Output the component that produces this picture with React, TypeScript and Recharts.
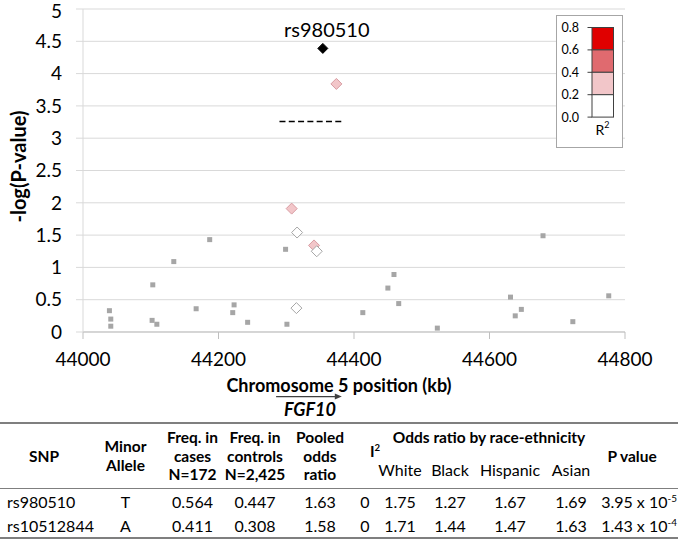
import React from 'react';
import { ScatterChart, Scatter, XAxis, YAxis, CartesianGrid, ReferenceLine, LabelList } from 'recharts';

const xTicks = [44000, 44200, 44400, 44600, 44800];
const yTicks = [0, 0.5, 1, 1.5, 2, 2.5, 3, 3.5, 4, 4.5, 5];

// SNPs without LD information (small gray squares)
const otherPos = [44039, 44041, 44041, 44103, 44102, 44109, 44134, 44167, 44187, 44223, 44221, 44243, 44299, 44301, 44413, 44450, 44459, 44466, 44523, 44631, 44638, 44647, 44679, 44723, 44776];
const otherLogP = [0.33, 0.2, 0.09, 0.73, 0.18, 0.12, 1.09, 0.36, 1.43, 0.42, 0.3, 0.15, 1.28, 0.12, 0.3, 0.68, 0.89, 0.44, 0.06, 0.54, 0.25, 0.35, 1.49, 0.16, 0.56];

// r2 0.0-0.2 (white diamonds)
const lowLdPos = [44316, 44345, 44315];
const lowLdLogP = [1.54, 1.25, 0.37];

// r2 0.2-0.4 (light pink diamonds)
const midLdPos = [44308, 44341, 44374];
const midLdLogP = [1.91, 1.34, 3.84];

// lead SNP
const leadSnp = ['rs980510'];
const leadPos = [44354];
const leadLogP = [4.39];

const threshold = 3.26;
const thresholdFrom = 44290;
const thresholdTo = 44384;

const geneName = 'FGF10';
const geneStart = 44285;
const geneEnd = 44382;
const geneTrackY = -1;

const r2Ticks = ['0.8', '0.6', '0.4', '0.2', '0.0'];
const r2Colors = ['#e00000', '#e06a6f', '#f2c6c9', '#ffffff'];

// table
const snps = ['rs980510', 'rs10512844'];
const minorAllele = ['T', 'A'];
const freqCases = ['0.564', '0.411'];
const freqControls = ['0.447', '0.308'];
const pooledOR = ['1.63', '1.58'];
const iSquared = ['0', '0'];
const races = ['White', 'Black', 'Hispanic', 'Asian'];
const orByRace = [
  ['1.75', '1.27', '1.67', '1.69'],
  ['1.71', '1.44', '1.47', '1.63'],
];
const pMantissa = ['3.95', '1.43'];
const pExponent = ['-5', '-4'];

const colWidths = [88, 75, 59, 66, 64, 26, 44, 56, 64, 58, 78];

const toPoints = (xs: number[], ys: number[]) => xs.map((x, i) => ({ x, y: ys[i] }));

const otherData = toPoints(otherPos, otherLogP);
const lowData = toPoints(lowLdPos, lowLdLogP);
const midData = toPoints(midLdPos, midLdLogP);
const leadData = leadPos.map((x, i) => ({ x, y: leadLogP[i], snp: leadSnp[i] }));

const diamond = (fill: string, stroke: string, r: number) => (props: any) => {
  const { cx, cy } = props;
  return (
    <path
      d={`M${cx},${cy - r}L${cx + r},${cy}L${cx},${cy + r}L${cx - r},${cy}Z`}
      fill={fill}
      stroke={stroke}
      strokeWidth={1}
    />
  );
};

const square = (props: any) => {
  const { cx, cy } = props;
  return <rect x={cx - 2.5} y={cy - 2.5} width={5} height={5} fill="#a6a6a6" />;
};

const sup = (t: string) => (
  <span style={{ fontSize: '0.62em', verticalAlign: 'super', lineHeight: 0 }}>{t}</span>
);

const th: React.CSSProperties = {
  fontWeight: 700,
  fontSize: 15.5,
  padding: 0,
  textAlign: 'center',
  verticalAlign: 'middle',
  lineHeight: '18.5px',
};
const td: React.CSSProperties = {
  padding: 0,
  textAlign: 'center',
  verticalAlign: 'middle',
};

export default function App() {
  return (
    <div
      style={{
        position: 'absolute',
        left: 0,
        top: 0,
        width: 680,
        height: 542,
        background: '#fff',
        fontFamily: 'Lato',
        color: '#000',
        overflow: 'hidden',
      }}
    >
      <ScatterChart width={680} height={420} margin={{ top: 9, right: 55, bottom: 48, left: 0 }}>
        <CartesianGrid vertical={false} stroke="#d9d9d9" />
        <XAxis
          type="number"
          dataKey="x"
          domain={[44000, 44800]}
          ticks={xTicks}
          height={40}
          tickSize={7}
          tickMargin={14}
          tick={{ fontSize: 19, fill: '#000' }}
          axisLine={{ stroke: '#bfbfbf' }}
          tickLine={{ stroke: '#bfbfbf' }}
          label={(p: any) => {
            const vb = p.viewBox;
            return (
              <text
                x={vb.x + vb.width / 2 - 15}
                y={385}
                textAnchor="middle"
                dominantBaseline="central"
                fontSize={18}
                fontWeight={700}
                fill="#000"
              >
                Chromosome 5 position (kb)
              </text>
            );
          }}
        />
        <YAxis
          type="number"
          dataKey="y"
          domain={[0, 5]}
          ticks={yTicks}
          width={83}
          tickSize={7}
          tickMargin={14}
          tick={{ fontSize: 19, fill: '#000' }}
          axisLine={{ stroke: '#d9d9d9' }}
          tickLine={{ stroke: '#d9d9d9' }}
          label={(p: any) => {
            const vb = p.viewBox;
            const cx = vb.x + 18;
            const cy = vb.y + vb.height / 2 - 4;
            return (
              <text
                x={cx}
                y={cy}
                transform={`rotate(-90 ${cx} ${cy})`}
                textAnchor="middle"
                dominantBaseline="central"
                fontSize={20}
                fontWeight={700}
                fill="#000"
              >
                -log(P-value)
              </text>
            );
          }}
        />
        <ReferenceLine
          segment={[
            { x: thresholdFrom, y: threshold },
            { x: thresholdTo, y: threshold },
          ]}
          stroke="#000"
          strokeWidth={1.5}
          strokeDasharray="6 3.3"
        />
        <ReferenceLine
          ifOverflow="visible"
          segment={[
            { x: geneStart, y: geneTrackY },
            { x: geneEnd, y: geneTrackY },
          ]}
          shape={(p: any) => {
            const { x1, y1, x2 } = p;
            return (
              <g>
                <line x1={x1} y1={y1} x2={x2 - 4} y2={y1} stroke="#404040" strokeWidth={1.3} />
                <path d={`M${x2},${y1}L${x2 - 7},${y1 - 3}L${x2 - 7},${y1 + 3}Z`} fill="#404040" />
                <text
                  x={(x1 + x2) / 2 + 1}
                  y={y1 + 12}
                  textAnchor="middle"
                  dominantBaseline="central"
                  fontSize={18}
                  fontWeight={700}
                  fontStyle="italic"
                  fill="#000"
                >
                  {geneName}
                </text>
              </g>
            );
          }}
        />
        <Scatter data={otherData} shape={square} isAnimationActive={false} />
        <Scatter data={midData} shape={diamond('#f2c6c9', '#d89ca2', 5.5)} isAnimationActive={false} />
        <Scatter data={lowData} shape={diamond('#ffffff', '#a6a6a6', 5.5)} isAnimationActive={false} />
        <Scatter data={leadData} shape={diamond('#000000', '#000000', 5)} isAnimationActive={false}>
          <LabelList
            dataKey="snp"
            content={(p: any) => {
              const vb = p.viewBox || p;
              const cx = vb.x + (vb.width || 0) / 2;
              return (
                <text x={cx + 4} y={vb.y - 7} textAnchor="middle" fontSize={20} fill="#000">
                  {p.value}
                </text>
              );
            }}
          />
        </Scatter>
      </ScatterChart>

      <svg style={{ position: 'absolute', left: 556, top: 15 }} width={68} height={134}>
        <rect x={0.5} y={0.5} width={66} height={132} fill="#fff" stroke="#a6a6a6" />
        {r2Colors.map((c, i) => (
          <rect key={c} x={36} y={12.5 + i * 22.4} width={21.5} height={22.4} fill={c} stroke="#404040" strokeWidth={1} />
        ))}
        {r2Ticks.map((t, i) => (
          <g key={t}>
            <line x1={31.5} x2={36} y1={12.5 + i * 22.4} y2={12.5 + i * 22.4} stroke="#404040" />
            <text x={23} y={12.5 + i * 22.4} textAnchor="end" dominantBaseline="central" fontSize={12.5} fill="#000">
              {t}
            </text>
          </g>
        ))}
        <text x={46.5} y={114} textAnchor="middle" dominantBaseline="central" fontSize={14} fill="#000">
          R<tspan fontSize={9} dy={-5}>2</tspan>
        </text>
      </svg>

      <table
        style={{
          position: 'absolute',
          left: 0,
          top: 422,
          width: 678,
          borderCollapse: 'collapse',
          tableLayout: 'fixed',
          fontSize: 16,
          fontFamily: 'Lato',
          borderTop: '2px solid #7f7f7f',
          borderBottom: '2px solid #7f7f7f',
        }}
      >
        <colgroup>
          {colWidths.map((w, i) => (
            <col key={i} style={{ width: w }} />
          ))}
        </colgroup>
        <thead style={{ borderBottom: '1.5px solid #7f7f7f' }}>
          <tr style={{ height: 28 }}>
            <th rowSpan={2} style={th}>SNP</th>
            <th rowSpan={2} style={th}>Minor<br />Allele</th>
            <th rowSpan={2} style={th}>Freq. in<br />cases<br />N=172</th>
            <th rowSpan={2} style={th}>Freq. in<br />controls<br />N=2,425</th>
            <th rowSpan={2} style={th}>Pooled<br />odds<br />ratio</th>
            <th rowSpan={2} style={{ ...th, paddingLeft: 18, paddingBottom: 10 }}>I{sup('2')}</th>
            <th colSpan={4} style={th}>Odds ratio by race-ethnicity</th>
            <th rowSpan={2} style={{ ...th, paddingRight: 14 }}>P value</th>
          </tr>
          <tr style={{ height: 37 }}>
            {races.map((r) => (
              <td key={r} style={td}>{r}</td>
            ))}
          </tr>
        </thead>
        <tbody>
          {snps.map((s, i) => (
            <tr key={s} style={{ height: i === 0 ? 25.5 : 24.5 }}>
              <td style={{ ...td, textAlign: 'left', paddingLeft: 7 }}>{s}</td>
              <td style={td}>{minorAllele[i]}</td>
              <td style={td}>{freqCases[i]}</td>
              <td style={td}>{freqControls[i]}</td>
              <td style={td}>{pooledOR[i]}</td>
              <td style={td}>{iSquared[i]}</td>
              {orByRace[i].map((v, j) => (
                <td key={j} style={td}>{v}</td>
              ))}
              <td style={td}>
                {pMantissa[i]} x 10{sup(pExponent[i])}
              </td>
            </tr>
          ))}
        </tbody>
      </table>
    </div>
  );
}
